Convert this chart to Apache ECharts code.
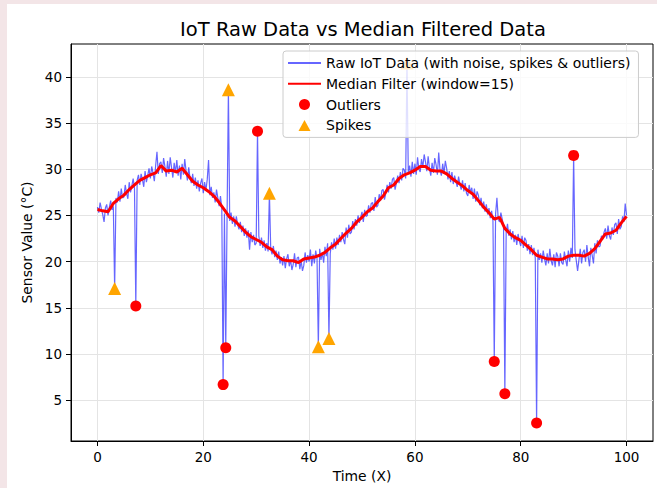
<!DOCTYPE html>
<html>
<head>
<meta charset="utf-8">
<script src="https://cdn.jsdelivr.net/npm/echarts@6/dist/echarts.min.js"></script>
<style>
html,body{margin:0;padding:0;background:#ffffff;}
#chart{width:657px;height:488px;}
</style>
</head>
<body>
<div id="chart"></div>
<script>
// ---- data ----
const rawStart = 0;
const rawStep = 0.25;
const rawValues = [
25.9,25.3,26.4,25.7, 25.1,24.3,25.8,26.2, 25.0,25.9,26.6,25.6, 26.0,26.5,26.9,26.4,
27.6,26.5,27.9,26.9, 27.0,28.3,27.4,26.8, 28.6,27.5,28.2,29.0, 27.9,28.4,28.8,29.4,
28.3,29.5,28.9,28.1, 29.8,28.6,29.3,30.1, 29.0,30.3,29.6,28.7, 30.4,31.9,29.5,30.6,
30.8,29.6,31.2,30.3, 29.2,30.9,29.5,31.3, 30.2,29.1,30.7,29.6, 31.0,29.3,30.4,28.9,
30.6,29.4,31.1,29.8, 28.8,30.2,29.0,28.5, 29.5,28.2,29.1,27.9, 28.8,27.6,28.5,29.0,
27.4,28.6,27.7,28.9, 31.0,27.2,28.1,26.9, 27.5,26.4,27.8,26.9, 26.0,27.1,25.8,26.3,
25.2,25.9,25.0,25.5, 24.4,25.3,24.1,24.9, 23.8,24.9,24.0,23.5, 24.3,23.2,23.9,22.8,
23.6,22.6,23.4,21.3, 23.2,22.1,22.9,21.8, 22.0,22.5,22.8,21.7, 22.6,21.5,22.3,21.2,
22.0,21.1,21.6,21.4, 20.8,21.7,20.5,21.2, 20.2,21.1,19.8,20.5, 19.6,20.6,19.3,20.3,
20.8,19.5,20.2,19.1, 19.7,20.9,19.4,20.4, 20.5,19.2,20.1,19.0, 19.6,21.0,19.9,20.7,
20.0,21.3,19.5,20.8, 19.8,21.2,20.3,20.6, 21.4,20.2,21.0,19.9, 21.6,20.6,22.0,21.2,
20.9,22.1,21.3,22.5, 21.4,22.6,21.8,22.9, 22.1,23.2,22.4,21.9, 23.7,22.6,24.0,23.0,
23.2,24.4,23.5,24.6, 23.9,25.0,24.2,24.8, 25.4,24.3,25.6,24.9, 25.0,26.1,25.3,26.3,
26.4,25.5,27.0,25.9, 26.1,27.3,26.6,27.7, 27.8,26.7,27.4,28.3, 27.5,28.6,27.9,28.9,
29.1,27.8,28.5,29.3, 28.5,29.7,28.8,30.1, 29.9,29.0,29.5,29.6, 30.4,29.2,30.8,29.5,
30.6,29.4,31.3,30.0, 29.7,31.1,30.2,31.6, 30.8,29.8,31.4,30.1, 29.3,30.7,29.6,31.2,
30.5,29.4,31.8,29.9, 29.3,30.6,29.5,30.9, 30.1,28.9,29.8,28.6, 29.7,28.4,29.3,28.7,
28.1,29.2,28.4,27.8, 28.8,27.6,28.5,27.4, 27.1,28.3,27.5,28.0, 26.8,27.9,26.5,27.6,
27.2,26.1,26.9,25.8, 26.5,25.4,26.2,25.1, 25.8,24.7,25.5,24.4, 24.9,25.2,26.9,24.6,
24.3,25.3,24.6,23.9, 24.0,23.2,24.1,22.8, 23.5,22.4,23.3,22.1, 22.9,21.8,23.0,22.2,
21.7,22.8,21.5,22.6, 22.3,21.2,21.9,20.8, 21.8,20.7,21.5,20.4, 20.6,21.3,20.2,20.9,
19.9,21.2,20.3,19.6, 20.9,19.8,21.4,20.1, 19.6,20.8,19.4,21.0, 20.6,19.5,20.9,19.9,
19.7,21.1,20.2,19.5, 21.2,20.0,21.5,20.4, 20.8,21.3,20.1,19.0, 20.2,21.4,19.8,21.0,
21.3,20.0,21.8,20.5, 19.5,21.5,20.7,19.8, 22.0,20.9,22.3,21.6, 21.7,22.8,22.4,23.2,
23.6,22.5,23.9,22.8, 22.4,23.7,22.9,24.0, 24.2,23.0,24.6,23.5, 23.8,24.9,24.3,26.3,
25.0
];
const medianStep = 1;
const medianValues = [
25.65,25.5,25.4,26.3,26.8,27.2,27.8,28.3,28.8,29.1,
29.4,29.6,30.4,29.8,29.9,29.7,30.1,29.4,28.7,28.3,
28.0,27.6,27.1,26.4,25.6,24.8,24.4,23.8,23.2,22.7,
22.4,22.1,21.6,21.3,20.6,20.2,20.1,20.1,19.9,20.3,
20.4,20.5,20.7,21.0,21.5,21.9,22.5,23.1,23.6,24.3,
24.8,25.4,25.8,26.5,27.1,28.0,28.3,29.0,29.4,29.6,
29.9,30.3,30.3,29.9,29.8,29.8,29.5,29.0,28.6,28.2,
27.7,27.3,26.6,25.9,25.3,24.6,24.8,23.6,23.0,22.6,
22.3,21.8,21.3,20.7,20.5,20.3,20.3,20.2,20.3,20.6,
20.7,20.7,20.6,20.9,21.4,22.2,23.0,23.1,23.4,24.2,
24.9
];
const outlierX = [7.25, 23.75, 24.25, 30.25, 75, 77, 83, 90];
const outlierY = [15.2, 6.7, 10.7, 34.1, 9.2, 5.7, 2.55, 31.5];
const spikeX = [3.25, 24.75, 32.5, 41.75, 43.75, 58.5];
const spikeY = [17.1, 38.6, 27.4, 10.8, 11.7, 41.5];
const xTicks = [0, 20, 40, 60, 80, 100];
const yTicks = [5, 10, 15, 20, 25, 30, 35, 40];

// ---- build series ----
const rawPairs = rawValues.map((v, i) => [rawStart + i * rawStep, v]);
function inject(xs, ys) {
  xs.forEach((x, k) => {
    const i = Math.round((x - rawStart) / rawStep);
    rawPairs[i] = [x, ys[k]];
  });
}
inject(outlierX, outlierY);
inject(spikeX, spikeY);
const medianPairs = medianValues.map((v, i) => [i * medianStep, v]);
const outlierPairs = outlierX.map((x, i) => [x, outlierY[i]]);
const spikePairs = spikeX.map((x, i) => [x, spikeY[i]]);

const FONT = 'DejaVu Sans';
const TRI = 'path://M6,0 L12,11 L0,11 Z';
const chart = echarts.init(document.getElementById('chart'), null, {renderer: 'svg'});
const gridColor = '#e4e4e4';
chart.setOption({
  animation: false,
  backgroundColor: '#ffffff',
  textStyle: {fontFamily: FONT},
  graphic: [
    {type: 'rect', shape: {x: 0, y: 0, width: 7, height: 488}, style: {fill: '#f3e5e7'}, z: 100},
    {type: 'rect', shape: {x: 0, y: 0, width: 657, height: 4}, style: {fill: '#f3e5e7'}, z: 100},
    {type: 'text', x: 363, y: 29, style: {text: 'IoT Raw Data vs Median Filtered Data', font: '19.5px "DejaVu Sans"', fill: '#000', textAlign: 'center', textVerticalAlign: 'middle'}, z: 100}
  ],
  grid: {left: 71, right: 4, top: 44, bottom: 46, show: true, borderColor: '#000', borderWidth: 1, backgroundColor: 'transparent'},
  legend: {
    orient: 'vertical', left: 283, top: 51, z: 20,
    itemWidth: 33, itemHeight: 11, itemGap: 6.8,
    padding: [5, 8, 5, 4],
    symbolKeepAspect: true,
    backgroundColor: 'rgba(255,255,255,0.8)', borderColor: '#cccccc', borderWidth: 1, borderRadius: 3,
    selectedMode: false,
    textStyle: {fontFamily: FONT, fontSize: 14, color: '#000', lineHeight: 14},
    data: [
      {name: 'Raw IoT Data (with noise, spikes & outliers)', itemStyle: {opacity: 0}},
      {name: 'Median Filter (window=15)', itemStyle: {opacity: 0}},
      {name: 'Outliers', icon: 'circle'},
      {name: 'Spikes', icon: TRI}
    ]
  },
  xAxis: {
    type: 'value', min: -5, max: 105,
    name: 'Time (X)', nameLocation: 'middle', nameGap: 28,
    nameTextStyle: {fontFamily: FONT, fontSize: 13.9, color: '#000'},
    axisLine: {show: true, onZero: false, lineStyle: {color: '#000', width: 1}},
    axisTick: {show: true, length: 5, customValues: xTicks, lineStyle: {color: '#000', width: 1}},
    axisLabel: {customValues: xTicks, fontFamily: FONT, fontSize: 13.5, color: '#000', margin: 9},
    splitLine: {show: true, lineStyle: {color: gridColor, width: 1}}
  },
  yAxis: {
    type: 'value', min: 0.6, max: 43.55,
    name: 'Sensor Value (°C)', nameLocation: 'middle', nameGap: 37, nameRotate: 90,
    nameTextStyle: {fontFamily: FONT, fontSize: 13.9, color: '#000'},
    axisLine: {show: true, onZero: false, lineStyle: {color: '#000', width: 1}},
    axisTick: {show: true, length: 5, customValues: yTicks, lineStyle: {color: '#000', width: 1}},
    axisLabel: {customValues: yTicks, fontFamily: FONT, fontSize: 13.5, color: '#000', margin: 9},
    splitLine: {show: true, lineStyle: {color: gridColor, width: 1}}
  },
  series: [
    {
      name: 'Raw IoT Data (with noise, spikes & outliers)', type: 'line', data: rawPairs,
      symbol: 'none', showSymbol: false,
      lineStyle: {color: '#0000ff', width: 1.2, opacity: 0.6},
      itemStyle: {color: '#0000ff'}, z: 2
    },
    {
      name: 'Median Filter (window=15)', type: 'line', data: medianPairs,
      symbol: 'none', showSymbol: false,
      lineStyle: {color: '#ff0000', width: 3},
      itemStyle: {color: '#ff0000'}, z: 3
    },
    {
      name: 'Outliers', type: 'scatter', data: outlierPairs, symbol: 'circle', symbolSize: 11,
      itemStyle: {color: '#ff0000', opacity: 1}, z: 4
    },
    {
      name: 'Spikes', type: 'scatter', data: spikePairs, symbol: 'triangle', symbolSize: 13,
      itemStyle: {color: '#ffa500', opacity: 1}, z: 5
    }
  ]
});
</script>
</body>
</html>
